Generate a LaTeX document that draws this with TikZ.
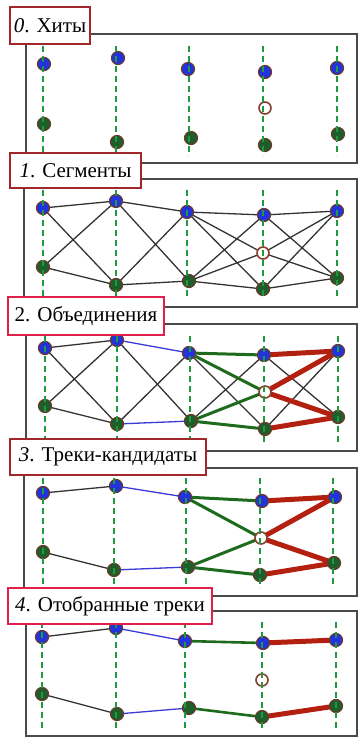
\documentclass[tikz,border=0pt]{standalone}
\usepackage{fontspec}
\setmainfont{Liberation Serif}
\pgfdeclarelayer{frames}
\pgfdeclarelayer{edges}
\pgfdeclarelayer{labels}
\pgfsetlayers{frames,edges,main,labels}
\definecolor{framegray}{HTML}{4A4A4A}
\definecolor{dotblue}{HTML}{2233DD}
\definecolor{dotgreen}{HTML}{1D5E2A}
\definecolor{dotrim}{HTML}{6B3A2A}
\definecolor{emptyrim}{HTML}{8A4030}
\definecolor{guidegreen}{HTML}{1F9A3F}
\definecolor{edgegreen}{HTML}{1E6B1E}
\definecolor{edgered}{HTML}{B3200F}
\definecolor{edgeblue}{HTML}{3A3AD6}
\definecolor{edgeblack}{HTML}{333333}
\definecolor{lbldark}{HTML}{A0282A}
\definecolor{lblcrimson}{HTML}{E0204A}
\begin{document}
\begin{tikzpicture}[x=1pt,y=-1pt,
  frame/.style={draw=framegray,line width=1.5pt},
  lbl/.style={draw=#1,line width=2.5pt,fill=white,inner sep=0pt,
    font=\fontsize{21}{25}\selectfont},
  bdot/.style={circle,fill=dotblue,draw=dotrim,line width=1.2pt,minimum size=13pt,inner sep=0pt},
  gdot/.style={circle,fill=dotgreen,draw=dotrim,line width=1.2pt,minimum size=13pt,inner sep=0pt},
  edot/.style={circle,fill=white,draw=emptyrim,line width=1.6pt,minimum size=12pt,inner sep=0pt},
  guide/.style={draw=guidegreen,line width=1.5pt,dash pattern=on 6pt off 4pt},
  blk/.style={draw=edgeblack,line width=1.3pt},
  blu/.style={draw=edgeblue,line width=1.3pt},
  grn/.style={draw=edgegreen,line width=3pt},
  grnthin/.style={draw=edgegreen,line width=2.6pt},
  red/.style={draw=edgered,line width=5pt,line cap=round}
]
\useasboundingbox (0,0) rectangle (360,738);

% ---------- frames ----------
\begin{pgfonlayer}{frames}
\draw[frame] (26,34) rectangle (357,163);
\draw[frame] (24,179) rectangle (357,307);
\draw[frame] (26,324) rectangle (357,451);
\draw[frame] (24,468) rectangle (357,596);
\draw[frame] (26,611) rectangle (357,736);
\end{pgfonlayer}

% ---------- panel 0 ----------
\foreach \i/\x/\y in {1/44/64,2/118/58,3/188/69,4/265/72,5/337/68}
  \node[bdot] (p0b\i) at (\x,\y) {};
\foreach \i/\x/\y in {1/44/124,2/117/142,3/191/138,4/265/145,5/338/134}
  \node[gdot] (p0g\i) at (\x,\y) {};
\node[edot] (p0e4) at (265,108) {};
\foreach \i/\x in {1/43,2/116,3/189,4/263,5/337}{
  \coordinate (p0t\i) at (\x,46);
  \coordinate (p0u\i) at (\x,156);
  \draw[guide] (p0t\i) -- (p0u\i);
}

% ---------- panel 1 ----------
\foreach \i/\x/\y in {1/43/208,2/116/201,3/187/212,4/264/215,5/337/211}
  \node[bdot] (p1b\i) at (\x,\y) {};
\foreach \i/\x/\y in {1/43/267,2/116/285,3/189/281,4/263/289,5/337/278}
  \node[gdot] (p1g\i) at (\x,\y) {};
\node[edot] (p1e4) at (263,253) {};
\begin{pgfonlayer}{edges}
\foreach \a/\b in {b1/b2,b1/g2,g1/b2,g1/g2,b2/b3,b2/g3,g2/b3,g2/g3,b3/b4,b3/e4,b3/g4,g3/b4,g3/e4,g3/g4,b4/b5,b4/g5,e4/b5,e4/g5,g4/b5,g4/g5}
  \draw[blk] (p1\a.center) -- (p1\b.center);
\end{pgfonlayer}
\foreach \i/\x in {1/43,2/116,3/187,4/263,5/337}{
  \coordinate (p1t\i) at (\x,190);
  \coordinate (p1u\i) at (\x,299);
  \draw[guide] (p1t\i) -- (p1u\i);
}

% ---------- panel 2 ----------
\foreach \i/\x/\y in {1/45/348,2/117/340,3/189/353,4/264/355,5/338/351}
  \node[bdot] (p2b\i) at (\x,\y) {};
\foreach \i/\x/\y in {1/45/406,2/117/424,3/191/421,4/265/429,5/338/417}
  \node[gdot] (p2g\i) at (\x,\y) {};
\node[edot] (p2e4) at (265,392) {};
\begin{pgfonlayer}{edges}
\foreach \a/\b in {b1/b2,b1/g2,g1/b2,g1/g2,b2/g3,g2/b3,b3/g4,g3/b4,b4/g5,g4/b5}
  \draw[blk] (p2\a.center) -- (p2\b.center);
\foreach \a/\b in {b2/b3,g2/g3}
  \draw[blu] (p2\a.center) -- (p2\b.center);
\foreach \a/\b in {b3/b4,b3/e4,g3/e4,g3/g4}
  \draw[grn] (p2\a.center) -- (p2\b.center);
\foreach \a/\b in {b4/b5,e4/b5,e4/g5,g4/g5}
  \draw[red] (p2\a.center) -- (p2\b.center);
\end{pgfonlayer}
\foreach \i/\x in {1/45,2/117,3/190,4/264,5/338}{
  \coordinate (p2t\i) at (\x,336);
  \coordinate (p2u\i) at (\x,443);
  \draw[guide] (p2t\i) -- (p2u\i);
}

% ---------- panel 3 ----------
\foreach \i/\x/\y in {1/43/493,2/116/486,3/185/497,4/262/501,5/335/497}
  \node[bdot] (p3b\i) at (\x,\y) {};
\foreach \i/\x/\y in {1/43/552,2/114/570,3/188/567,4/260/575,5/334/563}
  \node[gdot] (p3g\i) at (\x,\y) {};
\node[edot] (p3e4) at (261,538) {};
\begin{pgfonlayer}{edges}
\foreach \a/\b in {b1/b2,g1/g2}
  \draw[blk] (p3\a.center) -- (p3\b.center);
\foreach \a/\b in {b2/b3,g2/g3}
  \draw[blu] (p3\a.center) -- (p3\b.center);
\foreach \a/\b in {b3/b4,b3/e4,g3/e4,g3/g4}
  \draw[grn] (p3\a.center) -- (p3\b.center);
\foreach \a/\b in {b4/b5,e4/b5,e4/g5,g4/g5}
  \draw[red] (p3\a.center) -- (p3\b.center);
\end{pgfonlayer}
\foreach \i/\x in {1/43,2/114,3/186,4/260,5/333}{
  \coordinate (p3t\i) at (\x,478);
  \coordinate (p3u\i) at (\x,588);
  \draw[guide] (p3t\i) -- (p3u\i);
}

% ---------- panel 4 ----------
\foreach \i/\x/\y in {1/42/637,2/116/628,3/185/641,4/263/643,5/336/640}
  \node[bdot] (p4b\i) at (\x,\y) {};
\foreach \i/\x/\y in {1/42/694,2/117/714,3/189/708,4/262/717,5/336/706}
  \node[gdot] (p4g\i) at (\x,\y) {};
\node[edot] (p4e4) at (262,680) {};
\begin{pgfonlayer}{edges}
\foreach \a/\b in {b1/b2,g1/g2}
  \draw[blk] (p4\a.center) -- (p4\b.center);
\foreach \a/\b in {b2/b3,g2/g3}
  \draw[blu] (p4\a.center) -- (p4\b.center);
\foreach \a/\b in {b3/b4,g3/g4}
  \draw[grnthin] (p4\a.center) -- (p4\b.center);
\foreach \a/\b in {b4/b5,g4/g5}
  \draw[red] (p4\a.center) -- (p4\b.center);
\end{pgfonlayer}
\foreach \i/\x in {1/42,2/116,3/185,4/262,5/336}{
  \coordinate (p4t\i) at (\x,622);
  \coordinate (p4u\i) at (\x,730);
  \draw[guide] (p4t\i) -- (p4u\i);
}

% ---------- labels ----------
\begin{pgfonlayer}{labels}
\node[lbl=lbldark,minimum width=80pt,minimum height=37pt] (lab0) at (50,25.5) {\textit{0}. Хиты};
\node[lbl=lbldark,minimum width=131pt,minimum height=35pt] (lab1) at (75.5,170.5) {\textit{1}. Сегменты};
\node[lbl=lblcrimson,minimum width=156pt,minimum height=38pt] (lab2) at (86,316) {2. Объединения};
\node[lbl=lbldark,minimum width=196pt,minimum height=36pt] (lab3) at (108,457) {\textit{3}. Треки-кандидаты};
\node[lbl=lblcrimson,minimum width=204pt,minimum height=36pt] (lab4) at (110,606) {\textit{4}. Отобранные треки};
\end{pgfonlayer}
\end{tikzpicture}
\end{document}
